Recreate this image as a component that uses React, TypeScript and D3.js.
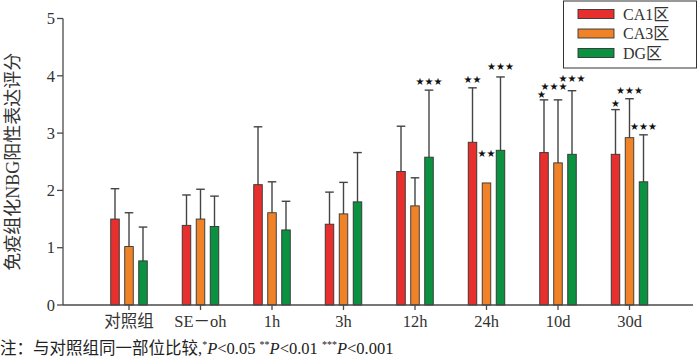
import React, { useEffect } from "react";
import * as d3 from "d3";

const categories = ["对照组", "SE－oh", "1h", "3h", "12h", "24h", "10d", "30d"];
const seriesNames = ["CA1区", "CA3区", "DG区"];
const seriesColors = ["#e7302e", "#f08228", "#0a9241"];
const ca1Mean = [1.5, 1.39, 2.1, 1.41, 2.33, 2.84, 2.66, 2.63];
const ca1Sd = [0.53, 0.53, 1.01, 0.56, 0.79, 0.95, 0.92, 0.78];
const ca3Mean = [1.02, 1.5, 1.61, 1.59, 1.73, 2.13, 2.48, 2.92];
const ca3Sd = [0.59, 0.52, 0.54, 0.55, 0.49, 0, 1.1, 0.68];
const dgMean = [0.77, 1.37, 1.31, 1.8, 2.58, 2.7, 2.63, 2.15];
const dgSd = [0.59, 0.53, 0.5, 0.86, 1.17, 1.28, 1.11, 0.82];
const ca1Stars = [0, 0, 0, 0, 0, 2, 1, 1];
const ca3Stars = [0, 0, 0, 0, 0, 2, 3, 3];
const dgStars = [0, 0, 0, 0, 3, 3, 3, 3];
const ca1StarLevel = [0, 0, 0, 0, 0, 3.94, 3.68, 3.52];
const ca3StarLevel = [0, 0, 0, 0, 0, 2.65, 3.82, 3.75];
const dgStarLevel = [0, 0, 0, 0, 3.9, 4.16, 3.96, 3.11];
const yTicks = [0, 1, 2, 3, 4, 5];

const means = [ca1Mean, ca3Mean, dgMean];
const sds = [ca1Sd, ca3Sd, dgSd];
const stars = [ca1Stars, ca3Stars, dgStars];
const starLevels = [ca1StarLevel, ca3StarLevel, dgStarLevel];

const serif = "'Liberation Serif', 'DejaVu Serif', 'Noto Sans CJK SC', serif";
const cjk = "'Liberation Serif', 'Noto Sans CJK SC', serif";

export default function App() {
  useEffect(() => {
    document.body.style.margin = "0";
  }, []);
  const W = 700, H = 360;
  const y = d3.scaleLinear().domain([0, 5]).range([305, 18.5]);
  const x = d3.scaleBand<string>().domain(categories).range([93.25, 665.25]).padding(0);
  const xs = d3
    .scaleBand<string>()
    .domain(seriesNames)
    .range([-21, 21])
    .paddingInner(0.39)
    .paddingOuter(0.195);
  const bw = xs.bandwidth();
  const axisColor = "#4a4a4a";
  const cx = (c: string) => (x(c) as number) + x.bandwidth() / 2;
  const starAdvance = 8.3;

  // simple collision nudge for star groups inside one category: shift left when they overlap the next group
  const starX = (ci: number, si: number, mid: number) => {
    let shift = 0;
    const n = stars[si][ci];
    const next = si + 1 < 3 ? stars[si + 1][ci] : 0;
    if (n > 0 && next > 0) {
      const nextMid = mid + xs.step();
      const right = mid + (n * starAdvance) / 2;
      const nextLeft = nextMid - (next * starAdvance) / 2;
      const dyPx = Math.abs(y(starLevels[si][ci]) - y(starLevels[si + 1][ci]));
      if (right > nextLeft && dyPx < 9) shift = -Math.min(4, right - nextLeft);
    }
    return mid + shift;
  };

  return (
    <svg width={W} height={H} style={{ position: "absolute", left: 0, top: 0, background: "#fff" }}>
      {/* y axis */}
      <line x1={63} x2={63} y1={y(5)} y2={y(0)} stroke={axisColor} strokeWidth={1.3} />
      {yTicks.map((t) => (
        <g key={t}>
          <line x1={57} x2={63} y1={y(t)} y2={y(t)} stroke={axisColor} strokeWidth={1.3} />
          <text x={55} y={y(t)} dy="0.35em" textAnchor="end" fontFamily={serif} fontSize={16.5} fill="#333">
            {t}
          </text>
        </g>
      ))}
      {/* bars */}
      {seriesNames.map((s, si) => (
        <g key={s}>
          {categories.map((c, ci) => {
            const bx = cx(c) + (xs(s) as number);
            const mid = bx + bw / 2;
            const v = means[si][ci];
            const sd = sds[si][ci];
            return (
              <g key={c}>
                {sd > 0 && (
                  <g stroke="#444" strokeWidth={1.4}>
                    <line x1={mid} x2={mid} y1={y(v)} y2={y(v + sd)} />
                    <line x1={mid - 4.3} x2={mid + 4.3} y1={y(v + sd)} y2={y(v + sd)} />
                  </g>
                )}
                <rect
                  x={bx}
                  y={y(v)}
                  width={bw}
                  height={y(0) - y(v)}
                  fill={seriesColors[si]}
                  stroke="#333"
                  strokeWidth={0.9}
                />
                {stars[si][ci] > 0 && (
                  <text
                    x={starX(ci, si, mid)}
                    y={y(starLevels[si][ci])}
                    dy="0.35em"
                    textAnchor="middle"
                    fontFamily="'DejaVu Sans', sans-serif"
                    fontSize={10}
                    fill="#111"
                  >
                    {"★".repeat(stars[si][ci])}
                  </text>
                )}
              </g>
            );
          })}
        </g>
      ))}
      {/* x axis */}
      <line x1={63} x2={693} y1={y(0)} y2={y(0)} stroke={axisColor} strokeWidth={1.3} />
      {categories.map((c) => (
        <g key={c}>
          <line x1={cx(c)} x2={cx(c)} y1={y(0)} y2={y(0) + 5} stroke={axisColor} strokeWidth={1.3} />
          <text x={cx(c)} y={327} textAnchor="middle" fontFamily={cjk} fontSize={16.5} fill="#333">
            {c}
          </text>
        </g>
      ))}
      {/* y label */}
      <text
        transform={`translate(13,${(y(0) + y(5)) / 2}) rotate(-90)`}
        textAnchor="middle"
        fontFamily={cjk}
        fontSize={18}
        fill="#333"
        dy="0.35em"
      >
        免疫组化NBG阳性表达评分
      </text>
      {/* legend */}
      <rect x={563.5} y={1} width={133} height={67} fill="#fff" stroke="#333" strokeWidth={1} />
      {seriesNames.map((s, i) => (
        <g key={s}>
          <rect x={578} y={9.5 + i * 19.5} width={36} height={9} fill={seriesColors[i]} stroke="#333" strokeWidth={0.9} />
          <text x={623} y={14 + i * 19.5} dy="0.35em" fontFamily={cjk} fontSize={16} fill="#333">
            {s}
          </text>
        </g>
      ))}
      {/* footnote */}
      <text x={0} y={354} fontFamily={cjk} fontSize={16.5} fill="#222">
        <tspan>注：与对照组同一部位比较,</tspan>
        <tspan fontSize={10} dy={-6}>*</tspan>
        <tspan fontStyle="italic" dy={6}>P</tspan>
        <tspan>{"<0.05 "}</tspan>
        <tspan fontSize={10} dy={-6}>**</tspan>
        <tspan fontStyle="italic" dy={6}>P</tspan>
        <tspan>{"<0.01 "}</tspan>
        <tspan fontSize={10} dy={-6}>***</tspan>
        <tspan fontStyle="italic" dy={6}>P</tspan>
        <tspan>{"<0.001"}</tspan>
      </text>
    </svg>
  );
}
